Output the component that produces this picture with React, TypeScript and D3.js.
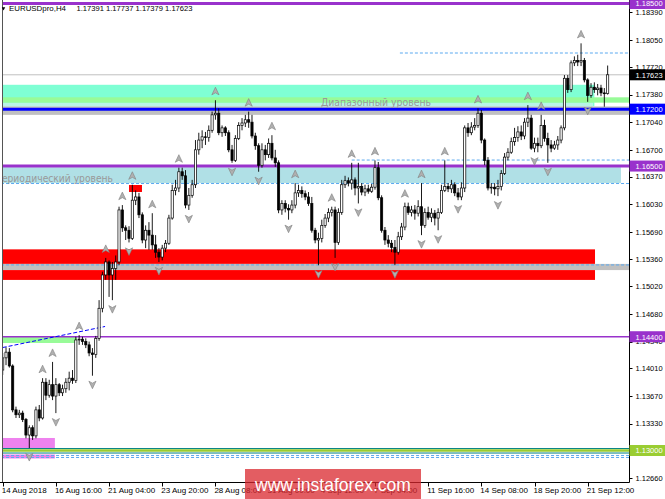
import React, { useEffect, useRef } from 'react';
import * as d3 from 'd3';

const W = 665;
const H = 499;

// H4 bars, [open, high, low, close]
const candles: [number, number, number, number][] = [
  [1.1399, 1.1420, 1.1393, 1.1414], [1.1414, 1.1427, 1.1405, 1.1421], [1.1421, 1.1426, 1.1402, 1.1404],
  [1.1404, 1.1406, 1.1347, 1.1350], [1.1350, 1.1354, 1.1340, 1.1344], [1.1344, 1.1350, 1.1340, 1.1346],
  [1.1346, 1.1349, 1.1335, 1.1338], [1.1338, 1.1340, 1.1315, 1.1319], [1.1319, 1.1331, 1.1303, 1.1328],
  [1.1328, 1.1331, 1.1313, 1.1318], [1.1318, 1.1354, 1.1315, 1.1350], [1.1350, 1.1356, 1.1336, 1.1340],
  [1.1340, 1.1389, 1.1338, 1.1384], [1.1384, 1.1389, 1.1362, 1.1368], [1.1368, 1.1387, 1.1365, 1.1381],
  [1.1381, 1.1409, 1.1362, 1.1367], [1.1367, 1.1389, 1.1346, 1.1381], [1.1381, 1.1383, 1.1367, 1.1371],
  [1.1371, 1.1381, 1.1367, 1.1376], [1.1376, 1.1389, 1.1371, 1.1384], [1.1384, 1.1397, 1.1374, 1.1389],
  [1.1389, 1.1399, 1.1382, 1.1386], [1.1386, 1.1440, 1.1383, 1.1436], [1.1436, 1.1442, 1.1430, 1.1437],
  [1.1437, 1.1440, 1.1430, 1.1434], [1.1434, 1.1438, 1.1426, 1.1430], [1.1430, 1.1434, 1.1416, 1.1420],
  [1.1420, 1.1426, 1.1392, 1.1418], [1.1418, 1.1441, 1.1414, 1.1438], [1.1438, 1.1485, 1.1435, 1.1475],
  [1.1475, 1.1520, 1.1470, 1.1516], [1.1516, 1.1537, 1.1510, 1.1532], [1.1532, 1.1534, 1.1489, 1.1516],
  [1.1516, 1.1532, 1.1485, 1.1524], [1.1524, 1.1540, 1.1510, 1.1532], [1.1532, 1.1600, 1.1528, 1.1596],
  [1.1596, 1.1602, 1.1569, 1.1574], [1.1574, 1.1577, 1.1559, 1.1571], [1.1571, 1.1576, 1.1556, 1.1561],
  [1.1561, 1.1627, 1.1559, 1.1608], [1.1608, 1.1620, 1.1602, 1.1612], [1.1612, 1.1617, 1.1586, 1.1590],
  [1.1590, 1.1593, 1.1555, 1.1559], [1.1559, 1.1577, 1.1549, 1.1571], [1.1571, 1.1581, 1.1547, 1.1565],
  [1.1565, 1.1592, 1.1547, 1.1553], [1.1553, 1.1565, 1.1537, 1.1544], [1.1544, 1.1549, 1.1532, 1.1538],
  [1.1538, 1.1553, 1.1534, 1.1549], [1.1549, 1.1559, 1.1544, 1.1555], [1.1555, 1.1590, 1.1553, 1.1586],
  [1.1586, 1.1627, 1.1584, 1.1620], [1.1620, 1.1633, 1.1614, 1.1623], [1.1623, 1.1648, 1.1618, 1.1643],
  [1.1643, 1.1648, 1.1633, 1.1638], [1.1638, 1.1645, 1.1598, 1.1602], [1.1602, 1.1623, 1.1596, 1.1614],
  [1.1614, 1.1633, 1.1611, 1.1627], [1.1627, 1.1682, 1.1623, 1.1670], [1.1670, 1.1691, 1.1664, 1.1682],
  [1.1682, 1.1694, 1.1672, 1.1686], [1.1686, 1.1692, 1.1676, 1.1685], [1.1685, 1.1700, 1.1680, 1.1694],
  [1.1694, 1.1717, 1.1691, 1.1713], [1.1713, 1.1731, 1.1707, 1.1715], [1.1715, 1.1721, 1.1688, 1.1691],
  [1.1691, 1.1700, 1.1686, 1.1697], [1.1697, 1.1699, 1.1687, 1.1691], [1.1691, 1.1694, 1.1667, 1.1670],
  [1.1670, 1.1676, 1.1654, 1.1657], [1.1657, 1.1688, 1.1655, 1.1684], [1.1684, 1.1704, 1.1682, 1.1700],
  [1.1700, 1.1709, 1.1694, 1.1703], [1.1703, 1.1713, 1.1698, 1.1707], [1.1707, 1.1717, 1.1697, 1.1704],
  [1.1704, 1.1713, 1.1684, 1.1687], [1.1687, 1.1691, 1.1670, 1.1675], [1.1675, 1.1678, 1.1643, 1.1651],
  [1.1651, 1.1678, 1.1648, 1.1670], [1.1670, 1.1676, 1.1657, 1.1664], [1.1664, 1.1684, 1.1660, 1.1678],
  [1.1678, 1.1688, 1.1657, 1.1660], [1.1660, 1.1670, 1.1649, 1.1654], [1.1654, 1.1657, 1.1592, 1.1596],
  [1.1596, 1.1608, 1.1590, 1.1604], [1.1604, 1.1608, 1.1593, 1.1598], [1.1598, 1.1603, 1.1584, 1.1596],
  [1.1596, 1.1608, 1.1592, 1.1602], [1.1602, 1.1629, 1.1598, 1.1617], [1.1617, 1.1627, 1.1612, 1.1620],
  [1.1620, 1.1625, 1.1611, 1.1616], [1.1616, 1.1620, 1.1608, 1.1612], [1.1612, 1.1618, 1.1601, 1.1604],
  [1.1604, 1.1612, 1.1568, 1.1571], [1.1571, 1.1574, 1.1555, 1.1559], [1.1559, 1.1568, 1.1528, 1.1561],
  [1.1561, 1.1584, 1.1556, 1.1577], [1.1577, 1.1591, 1.1574, 1.1586], [1.1586, 1.1598, 1.1581, 1.1593],
  [1.1593, 1.1600, 1.1588, 1.1596], [1.1596, 1.1600, 1.1537, 1.1556], [1.1556, 1.1598, 1.1553, 1.1593],
  [1.1593, 1.1633, 1.1590, 1.1627], [1.1627, 1.1638, 1.1623, 1.1632], [1.1632, 1.1636, 1.1625, 1.1629],
  [1.1629, 1.1654, 1.1621, 1.1633], [1.1633, 1.1636, 1.1614, 1.1623], [1.1623, 1.1654, 1.1604, 1.1625],
  [1.1625, 1.1629, 1.1614, 1.1618], [1.1618, 1.1627, 1.1613, 1.1622], [1.1622, 1.1627, 1.1616, 1.1619],
  [1.1619, 1.1628, 1.1617, 1.1624], [1.1624, 1.1657, 1.1621, 1.1648], [1.1648, 1.1655, 1.1608, 1.1611],
  [1.1611, 1.1614, 1.1568, 1.1571], [1.1571, 1.1575, 1.1553, 1.1559], [1.1559, 1.1565, 1.1550, 1.1555],
  [1.1555, 1.1559, 1.1544, 1.1550], [1.1550, 1.1559, 1.1528, 1.1544], [1.1544, 1.1569, 1.1541, 1.1563],
  [1.1563, 1.1580, 1.1559, 1.1575], [1.1575, 1.1605, 1.1571, 1.1600], [1.1600, 1.1605, 1.1590, 1.1593],
  [1.1593, 1.1601, 1.1588, 1.1596], [1.1596, 1.1602, 1.1584, 1.1592], [1.1592, 1.1608, 1.1588, 1.1600],
  [1.1600, 1.1629, 1.1565, 1.1577], [1.1577, 1.1598, 1.1574, 1.1593], [1.1593, 1.1600, 1.1584, 1.1587],
  [1.1587, 1.1598, 1.1581, 1.1592], [1.1592, 1.1596, 1.1577, 1.1586], [1.1586, 1.1598, 1.1571, 1.1593],
  [1.1593, 1.1627, 1.1591, 1.1620], [1.1620, 1.1657, 1.1618, 1.1625], [1.1625, 1.1629, 1.1618, 1.1622],
  [1.1622, 1.1633, 1.1617, 1.1627], [1.1627, 1.1630, 1.1613, 1.1617], [1.1617, 1.1623, 1.1608, 1.1612],
  [1.1612, 1.1630, 1.1608, 1.1623], [1.1623, 1.1700, 1.1618, 1.1697], [1.1697, 1.1703, 1.1686, 1.1691],
  [1.1691, 1.1704, 1.1688, 1.1698], [1.1698, 1.1709, 1.1694, 1.1700], [1.1700, 1.1721, 1.1697, 1.1715],
  [1.1715, 1.1719, 1.1678, 1.1682], [1.1682, 1.1684, 1.1651, 1.1657], [1.1657, 1.1661, 1.1620, 1.1623],
  [1.1623, 1.1629, 1.1616, 1.1624], [1.1624, 1.1629, 1.1614, 1.1622], [1.1622, 1.1633, 1.1613, 1.1625],
  [1.1625, 1.1645, 1.1620, 1.1641], [1.1641, 1.1666, 1.1639, 1.1661], [1.1661, 1.1672, 1.1657, 1.1667],
  [1.1667, 1.1685, 1.1665, 1.1680], [1.1680, 1.1697, 1.1675, 1.1685], [1.1685, 1.1699, 1.1680, 1.1692],
  [1.1692, 1.1700, 1.1682, 1.1687], [1.1687, 1.1709, 1.1683, 1.1704], [1.1704, 1.1725, 1.1698, 1.1709],
  [1.1709, 1.1713, 1.1670, 1.1672], [1.1672, 1.1685, 1.1667, 1.1678], [1.1678, 1.1685, 1.1667, 1.1675],
  [1.1675, 1.1713, 1.1672, 1.1700], [1.1700, 1.1707, 1.1680, 1.1684], [1.1684, 1.1691, 1.1654, 1.1676],
  [1.1676, 1.1682, 1.1667, 1.1672], [1.1672, 1.1681, 1.1670, 1.1676], [1.1676, 1.1687, 1.1670, 1.1682],
  [1.1682, 1.1700, 1.1678, 1.1697], [1.1697, 1.1762, 1.1694, 1.1758], [1.1758, 1.1762, 1.1740, 1.1744],
  [1.1744, 1.1780, 1.1741, 1.1777], [1.1777, 1.1785, 1.1773, 1.1780], [1.1780, 1.1787, 1.1773, 1.1778],
  [1.1778, 1.1801, 1.1773, 1.1780], [1.1780, 1.1783, 1.1753, 1.1756], [1.1756, 1.1758, 1.1729, 1.1737],
  [1.1737, 1.1752, 1.1734, 1.1747], [1.1747, 1.1753, 1.1740, 1.1744], [1.1744, 1.1751, 1.1737, 1.1746],
  [1.1746, 1.1750, 1.1736, 1.1740], [1.1740, 1.1746, 1.1723, 1.1739], [1.17391, 1.17737, 1.17379, 1.17623],
];

const priceTicks = [1.1839, 1.1805, 1.1772, 1.1738, 1.1704, 1.167, 1.1637, 1.1603, 1.1569, 1.1536,
  1.1502, 1.1468, 1.1434, 1.1401, 1.1367, 1.1333, 1.1266];

const timeLabels = ['14 Aug 2018', '16 Aug 16:00', '21 Aug 04:00', '23 Aug 20:00', '28 Aug 08:00',
  '31 Aug 00:00', '4 Sep 12:00', '7 Sep 04:00', '11 Sep 16:00', '14 Sep 08:00', '18 Sep 20:00', '21 Sep 12:00'];
const barsPerLabel = 16;

// shaded zones: bar range and price range
const zones = [
  { kind: 'aqua', from: -2, to: 178, hi: 1.1750, lo: 1.17234 },
  { kind: 'paleAqua', from: -2, to: 177.6, hi: 1.1728, lo: 1.17234 },
  { kind: 'lime', from: -2, to: 190, hi: 1.17346, lo: 1.1728 },
  { kind: 'gray', from: -2, to: 190, hi: 1.17234, lo: 1.1713 },
  { kind: 'powder', from: -2, to: 186, hi: 1.16486, lo: 1.16291 },
  { kind: 'red', from: 38, to: 41.9, hi: 1.16267, lo: 1.16181 },
  { kind: 'red', from: -2, to: 178.2, hi: 1.15475, lo: 1.15296 },
  { kind: 'gray', from: -2, to: 190, hi: 1.15296, lo: 1.1522 },
  { kind: 'red', from: -2, to: 178.2, hi: 1.1522, lo: 1.15099 },
  { kind: 'lime', from: -2, to: 22.4, hi: 1.14397, lo: 1.14323 },
  { kind: 'violet', from: -2, to: 15.7, hi: 1.13154, lo: 1.13024 },
  { kind: 'violet', from: -2, to: 15.7, hi: 1.12951, lo: 1.12902 },
];

const dashedLevels = [
  { price: 1.17891, from: 119.5 },
  { price: 1.16574, from: 105 },
  { price: 1.16285, from: -2 },
  { price: 1.15283, from: -2 },
  { price: 1.12938, from: -2 },
  { price: 1.12914, from: -2 },
];

const levelLines = [
  { price: 1.185, kind: 'purple', w: 3 },
  { price: 1.172, kind: 'blue', w: 3 },
  { price: 1.165, kind: 'purple', w: 3 },
  { price: 1.144, kind: 'purple', w: 1.5 },
  { price: 1.13024, kind: 'teal', w: 1 },
  { price: 1.13, kind: 'olive', w: 2.5 },
  { price: 1.12969, kind: 'teal', w: 1 },
];

const trendLine: [number, number][] = [[0, 1.14267], [30.8, 1.14526]];

const levelTags = [
  { price: 1.185, kind: 'purple' },
  { price: 1.17623, kind: 'black' },
  { price: 1.172, kind: 'blue' },
  { price: 1.165, kind: 'purple' },
  { price: 1.144, kind: 'purple' },
  { price: 1.13, kind: 'olive' },
];

const colors: Record<string, string> = {
  aqua: '#7fffd4', paleAqua: '#b8f4e6', lime: '#98fb98', gray: '#c0c0c0', powder: '#b0e0e6',
  red: '#ff0000', violet: '#ee82ee', purple: '#9932cc', blue: '#0000ff', teal: '#008080',
  olive: '#9acd32', black: '#000000',
};

const App: React.FC = () => {
  const svgRef = useRef<SVGSVGElement>(null);

  useEffect(() => {
    if (!svgRef.current) return;
    const svg = d3.select(svgRef.current);
    svg.selectAll('*').remove();

    const plotR = 629.5;
    const plotB = 482.5;

    const x = d3.scaleLinear().domain([0, 176]).range([2.7, 587.7]);
    const y = d3.scaleLinear().domain([1.126124, 1.185433]).range([482, 0]);

    svg.append('rect').attr('width', W).attr('height', H).attr('fill', '#fff');

    svg.append('clipPath').attr('id', 'plot')
      .append('rect').attr('x', 2.5).attr('y', 0).attr('width', plotR - 2.5).attr('height', plotB);

    const g = svg.append('g').attr('clip-path', 'url(#plot)');

    g.selectAll('rect.zone')
      .data(zones)
      .join('rect')
      .attr('class', 'zone')
      .attr('x', d => x(d.from))
      .attr('width', d => x(d.to) - x(d.from))
      .attr('y', d => y(d.hi))
      .attr('height', d => y(d.lo) - y(d.hi))
      .attr('fill', d => colors[d.kind]);

    // bid line
    g.append('line')
      .attr('x1', 0).attr('x2', plotR)
      .attr('y1', y(candles[candles.length - 1][3])).attr('y2', y(candles[candles.length - 1][3]))
      .attr('stroke', '#c0c0c0').attr('stroke-width', 1);

    g.selectAll('line.dash')
      .data(dashedLevels)
      .join('line')
      .attr('class', 'dash')
      .attr('x1', d => x(d.from)).attr('x2', plotR)
      .attr('y1', d => y(d.price)).attr('y2', d => y(d.price))
      .attr('stroke', '#5aa9f0').attr('stroke-width', 1).attr('stroke-dasharray', '3,2');

    g.selectAll('line.level')
      .data(levelLines)
      .join('line')
      .attr('class', 'level')
      .attr('x1', 0).attr('x2', plotR)
      .attr('y1', d => y(d.price)).attr('y2', d => y(d.price))
      .attr('stroke', d => colors[d.kind]).attr('stroke-width', d => d.w);

    g.append('path')
      .attr('d', d3.line<[number, number]>().x(d => x(d[0])).y(d => y(d[1]))(trendLine))
      .attr('stroke', '#0000ff').attr('stroke-width', 1).attr('stroke-dasharray', '4,2').attr('fill', 'none');

    g.append('text')
      .attr('x', 321).attr('y', 106)
      .attr('font-family', 'DejaVu Sans, sans-serif').attr('font-size', 11)
      .attr('fill', '#999').attr('textLength', 110).attr('lengthAdjust', 'spacingAndGlyphs')
      .text('Диапазонный  уровень');

    g.append('text')
      .attr('x', -5).attr('y', 182)
      .attr('font-family', 'DejaVu Sans, sans-serif').attr('font-size', 11)
      .attr('fill', '#999').attr('textLength', 118).attr('lengthAdjust', 'spacingAndGlyphs')
      .text('Периодический уровень');

    // candles
    const bars = candles.map((c, i) => ({ i, o: c[0], h: c[1], l: c[2], c: c[3] }));
    const cg = g.append('g');
    cg.selectAll('line.wick')
      .data(bars)
      .join('line')
      .attr('class', 'wick')
      .attr('x1', d => x(d.i)).attr('x2', d => x(d.i))
      .attr('y1', d => y(d.h)).attr('y2', d => y(d.l))
      .attr('stroke', '#000').attr('stroke-width', 0.9);
    cg.selectAll('rect.body')
      .data(bars)
      .join('rect')
      .attr('class', 'body')
      .attr('x', d => x(d.i) - 1.1)
      .attr('width', 2.2)
      .attr('y', d => y(Math.max(d.o, d.c)))
      .attr('height', d => Math.max(0.8, Math.abs(y(d.o) - y(d.c))))
      .attr('fill', d => (d.c >= d.o ? '#fff' : '#000'))
      .attr('stroke', '#000').attr('stroke-width', 0.7);

    // Bill Williams fractals
    const ups: typeof bars = [];
    const downs: typeof bars = [];
    for (let i = 2; i < bars.length - 2; i++) {
      const b = bars[i];
      if (b.h > bars[i - 1].h && b.h > bars[i - 2].h && b.h >= bars[i + 1].h && b.h >= bars[i + 2].h) ups.push(b);
      if (b.l < bars[i - 1].l && b.l < bars[i - 2].l && b.l <= bars[i + 1].l && b.l <= bars[i + 2].l) downs.push(b);
    }
    const arrowUp = 'M0,-4 L3.6,3.6 L0,1.6 L-3.6,3.6 Z';
    const arrowDn = 'M0,4 L3.6,-3.6 L0,-1.6 L-3.6,-3.6 Z';
    g.selectAll('path.fu')
      .data(ups)
      .join('path')
      .attr('class', 'fu')
      .attr('d', arrowUp)
      .attr('transform', d => `translate(${x(d.i)},${y(d.h) - 9})`)
      .attr('fill', '#b0b0b0').attr('stroke', '#808080').attr('stroke-width', 0.6);
    g.selectAll('path.fd')
      .data(downs)
      .join('path')
      .attr('class', 'fd')
      .attr('d', arrowDn)
      .attr('transform', d => `translate(${x(d.i)},${y(d.l) + 9})`)
      .attr('fill', '#b0b0b0').attr('stroke', '#808080').attr('stroke-width', 0.6);

    // frame and axes
    svg.append('line').attr('x1', 2.5).attr('x2', 2.5).attr('y1', 0).attr('y2', plotB)
      .attr('stroke', '#555').attr('stroke-width', 1);
    svg.append('line').attr('x1', plotR).attr('x2', plotR).attr('y1', 0).attr('y2', plotB)
      .attr('stroke', '#000').attr('stroke-width', 1);
    svg.append('line').attr('x1', 0).attr('x2', plotR).attr('y1', plotB).attr('y2', plotB)
      .attr('stroke', '#000').attr('stroke-width', 1);

    const axisFont = 'Liberation Sans, Arial, sans-serif';

    const yt = svg.append('g');
    yt.selectAll('line')
      .data(priceTicks)
      .join('line')
      .attr('x1', plotR).attr('x2', plotR + 3)
      .attr('y1', d => Math.round(y(d)) + 0.5).attr('y2', d => Math.round(y(d)) + 0.5)
      .attr('stroke', '#000');
    yt.selectAll('text')
      .data(priceTicks)
      .join('text')
      .attr('x', 635.5).attr('y', d => y(d) + 2.8)
      .attr('font-family', axisFont).attr('font-size', 7.5).attr('fill', '#000')
      .text(d => d.toFixed(5));

    const tags = svg.append('g');
    tags.selectAll('rect')
      .data(levelTags)
      .join('rect')
      .attr('x', plotR).attr('width', W - plotR)
      .attr('y', d => y(d.price) - 5.5).attr('height', 11)
      .attr('fill', d => colors[d.kind]);
    tags.selectAll('text')
      .data(levelTags)
      .join('text')
      .attr('x', 635.5).attr('y', d => y(d.price) + 2.8)
      .attr('font-family', axisFont).attr('font-size', 7.5).attr('fill', '#fff')
      .text(d => d.price.toFixed(5));

    const xt = svg.append('g');
    xt.selectAll('line')
      .data(timeLabels)
      .join('line')
      .attr('x1', (_, i) => Math.round(x(i * barsPerLabel)) + 0.5)
      .attr('x2', (_, i) => Math.round(x(i * barsPerLabel)) + 0.5)
      .attr('y1', plotB).attr('y2', plotB + 4)
      .attr('stroke', '#000');
    xt.selectAll('text')
      .data(timeLabels)
      .join('text')
      .attr('x', (_, i) => x(i * barsPerLabel) - 1)
      .attr('y', 493)
      .attr('font-family', axisFont).attr('font-size', 8).attr('fill', '#000')
      .text(d => d);

    // header
    svg.append('path').attr('d', 'M1.8,7.3 L5.2,7.3 L3.5,10.5 Z').attr('fill', '#000');
    svg.append('text')
      .attr('x', 9).attr('y', 11)
      .attr('font-family', axisFont).attr('font-size', 8).attr('fill', '#000')
      .attr('textLength', 57).attr('lengthAdjust', 'spacingAndGlyphs')
      .text('EURUSDpro,H4');
    const last = candles[candles.length - 1];
    svg.append('text')
      .attr('x', 76.5).attr('y', 11)
      .attr('font-family', axisFont).attr('font-size', 8).attr('fill', '#000')
      .attr('textLength', 116).attr('lengthAdjust', 'spacingAndGlyphs')
      .text(last.map(v => v.toFixed(5)).join(' '));

    // watermark
    svg.append('rect')
      .attr('x', 245).attr('y', 469).attr('width', 176).attr('height', 30)
      .attr('fill', '#d9272e').attr('opacity', 0.75);
    svg.append('text')
      .attr('x', 255).attr('y', 491)
      .attr('font-family', axisFont).attr('font-size', 19).attr('fill', '#fff')
      .attr('textLength', 156).attr('lengthAdjust', 'spacingAndGlyphs')
      .text('www.instaforex.com');
  }, []);

  return (
    <div style={{ position: 'absolute', left: 0, top: 0 }}>
      <svg ref={svgRef} width={W} height={H} style={{ display: 'block' }} />
    </div>
  );
};

export default App;
